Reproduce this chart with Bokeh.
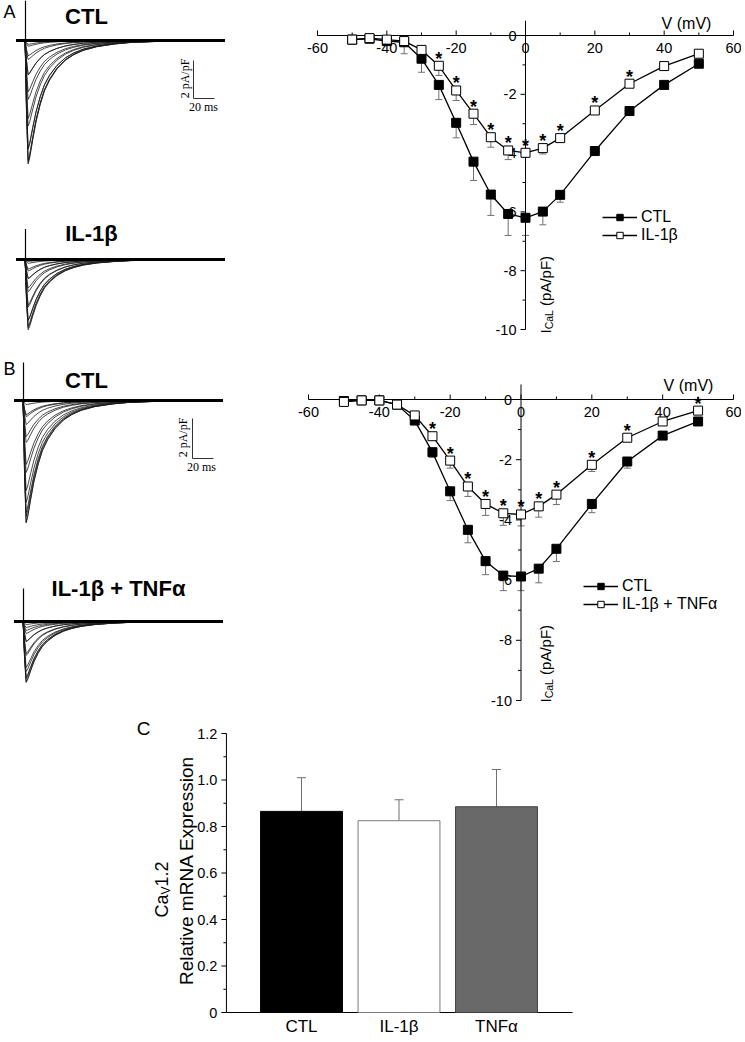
import math
from bokeh.plotting import figure
from bokeh.layouts import column, row
from bokeh.models import (ColumnDataSource, Whisker, TeeHead, Label, Legend, LegendItem, Range1d)
from bokeh.core.properties import value
from bokeh.embed import file_html
from bokeh.resources import INLINE

SANS = "Liberation Sans"
SERIF = "Liberation Serif"
ERR_GREY = "#707070"

# ---------------- I-V relations (test potential mV, I_CaL pA/pF) ----------------
voltages = [-50, -45, -40, -35, -30, -25, -20, -15, -10, -5, 0, 5, 10, 20, 30, 40, 50]

ivA_ctl = [-0.14, -0.11, -0.19, -0.23, -0.79, -1.68, -2.97, -4.29, -5.41, -6.07, -6.20, -5.99, -5.42, -3.93, -2.57, -1.68, -0.96]
ivA_ctl_err = [0.05, 0.05, 0.05, 0.39, 0.46, 0.50, 0.51, 0.64, 0.71, 0.73, 0.60, 0.45, 0.25, 0.08, 0.08, 0.05, 0.05]
ivA_il = [-0.14, -0.09, -0.14, -0.19, -0.49, -1.03, -1.87, -2.66, -3.46, -3.91, -3.99, -3.83, -3.49, -2.55, -1.64, -1.04, -0.62]
ivA_il_err = [0.05, 0.10, 0.05, 0.05, 0.06, 0.33, 0.34, 0.37, 0.34, 0.31, 0.15, 0.20, 0.06, 0.10, 0.06, 0.05, 0.05]
ivA_stars = [-25, -20, -15, -10, -5, 0, 5, 10, 20, 30]

ivB_ctl = [-0.05, -0.03, -0.03, -0.17, -0.70, -1.75, -3.05, -4.33, -5.37, -5.85, -5.88, -5.62, -4.96, -3.47, -2.06, -1.20, -0.73]
ivB_ctl_err = [0.03, 0.03, 0.03, 0.05, 0.08, 0.17, 0.31, 0.43, 0.45, 0.50, 0.47, 0.47, 0.42, 0.29, 0.22, 0.08, 0.05]
ivB_it = [-0.08, -0.03, -0.03, -0.17, -0.53, -1.22, -2.03, -2.89, -3.47, -3.78, -3.82, -3.55, -3.16, -2.17, -1.27, -0.73, -0.37]
ivB_it_err = [0.03, 0.03, 0.03, 0.05, 0.06, 0.14, 0.25, 0.33, 0.38, 0.40, 0.38, 0.36, 0.33, 0.22, 0.08, 0.06, 0.05]
ivB_stars = [-25, -20, -15, -10, -5, 0, 5, 10, 20, 30, 50]

iv_x_ticks = [-60, -40, -20, 0, 20, 40, 60]
iv_x_minor = [-50, -30, -10, 10, 30, 50]
iv_y_ticks = [0, -2, -4, -6, -8, -10]
iv_y_minor = [-1, -3, -5, -7, -9]
iv_y_axis_top = 0.5

# ---------------- example current traces (ms, fraction of peak) ----------------
trace_t_ms = [-9, -0.5, 0, 1, 2.5, 4, 7, 10, 14, 18, 23, 30, 38, 46, 55, 68, 85, 100, 130, 190]
trace_shape = [0, 0, 0.15, 0.6, 1.0, 0.95, 0.8, 0.66, 0.52, 0.41, 0.32, 0.23, 0.16, 0.115, 0.08, 0.05, 0.028, 0.016, 0.006, 0]
trA_ctl_peaks = [-0.2, -0.3, -0.8, -1.8, -3.1, -4.5, -5.7, -6.4, -6.5, -6.3, -5.7, -4.1, -2.7, -1.8, -1.0]
trA_il_peaks = [-0.1, -0.2, -0.5, -1.0, -1.7, -2.5, -3.2, -3.6, -3.7, -3.5, -3.2, -2.4, -1.5, -1.0, -0.6]
trB_ctl_peaks = [-0.05, -0.2, -0.7, -1.8, -3.2, -4.5, -5.6, -6.1, -6.1, -5.8, -5.1, -3.6, -2.1, -1.2, -0.8]
trB_it_peaks = [-0.05, -0.15, -0.45, -1.0, -1.6, -2.3, -2.8, -3.0, -3.05, -2.85, -2.5, -1.7, -1.0, -0.6, -0.3]
artifact_top = {"A_ctl": 2.1, "A_il": 1.6, "B_ctl": 1.9, "B_it": 1.65}
scale_ms = 20
scale_pa = 2

# ---------------- Panel C: Cav1.2 mRNA ----------------
bar_cats = ["CTL", "IL-1\u03b2", "TNF\u03b1"]
bar_vals = [0.865, 0.825, 0.885]
bar_errs = [0.145, 0.09, 0.16]
bar_fill = ["black", "white", "#696969"]
bar_line = ["black", "#7a7a7a", "#404040"]
bar_y_ticks = [0, 0.2, 0.4, 0.6, 0.8, 1.0, 1.2]
bar_y_labels = ["0", "0.2", "0.4", "0.6", "0.8", "1.0", "1.2"]
bar_y_minor = [0.1, 0.3, 0.5, 0.7, 0.9, 1.1]
bar_x_extent = [0.23, 3.78]


class Frame:
    """Placement of a plot frame, in page pixels of the reference picture."""
    def __init__(self, left, top, width, height, xa, xb, ya, yb):
        self.left, self.top, self.width, self.height = left, top, width, height
        (d1, p1), (d2, p2) = xa, xb
        self.sx = (p2 - p1) / (d2 - d1)
        self.x0 = d1 - (p1 - left) / self.sx
        self.x1 = self.x0 + width / self.sx
        (e1, q1), (e2, q2) = ya, yb
        self.sy = (q2 - q1) / (e1 - e2)
        self.y1 = e1 + (q1 - top) / self.sy
        self.y0 = self.y1 - height / self.sy

    def dx(self, px):
        return self.x0 + (px - self.left) / self.sx

    def dy(self, py):
        return self.y1 - (py - self.top) / self.sy

    def ux(self, n):
        return n / self.sx

    def uy(self, n):
        return n / self.sy


def make_fig(fr):
    p = figure(width=fr.width, height=fr.height,
               x_range=Range1d(fr.x0, fr.x1), y_range=Range1d(fr.y0, fr.y1),
               x_axis_type=None, y_axis_type=None, output_backend="svg",
               toolbar_location=None, min_border=0)
    p.outline_line_color = None
    return p


def lab(p, fr, px, py, text, size, style="normal", font=SANS, angle=0.0,
        align="center", baseline="middle"):
    p.add_layout(Label(x=fr.dx(px), y=fr.dy(py), text=text, text_font=font,
                       text_font_size=size, text_font_style=style, angle=angle,
                       text_align=align, text_baseline=baseline, text_color="black"))


def draw_family(p, offset, peaks, art):
    xs = [trace_t_ms for _ in peaks]
    ys = [[offset + pk * f for f in trace_shape] for pk in peaks]
    p.multi_line(xs, ys, line_color="#1a1a1a", line_width=0.8)
    p.line([trace_t_ms[0], trace_t_ms[-1]], [offset, offset], line_color="black", line_width=3.2)
    p.segment(x0=[0], y0=[offset], x1=[0], y1=[offset + art], line_color="black", line_width=1.2)


def draw_scalebar(p, fr, t0, y0, txt_v, txt_h):
    p.line([t0, t0, t0 + scale_ms], [y0, y0 - scale_pa, y0 - scale_pa], line_color="#333333", line_width=1)
    lab(p, fr, txt_v[0], txt_v[1], "2 pA/pF", "12px", font=SERIF, angle=math.pi / 2)
    lab(p, fr, txt_h[0], txt_h[1], "20 ms", "12px", font=SERIF)


def draw_iv(fr, ctl, ctl_err, trt, trt_err, stars, trt_label, v_xy, ical_xy, legend_tl):
    p = make_fig(fr)
    kw = dict(line_color="black", line_width=1)
    nx, nxm, ny, nym = len(iv_x_ticks), len(iv_x_minor), len(iv_y_ticks), len(iv_y_minor)
    p.segment(x0=[iv_x_ticks[0]], y0=[0], x1=[iv_x_ticks[-1]], y1=[0], **kw)
    p.segment(x0=[0], y0=[iv_y_ticks[-1]], x1=[0], y1=[iv_y_axis_top], **kw)
    p.segment(x0=iv_x_ticks, y0=[0] * nx, x1=iv_x_ticks, y1=[fr.uy(5)] * nx, **kw)
    p.segment(x0=iv_x_minor, y0=[0] * nxm, x1=iv_x_minor, y1=[fr.uy(3)] * nxm, **kw)
    p.segment(x0=[0] * ny, y0=iv_y_ticks, x1=[-fr.ux(5)] * ny, y1=iv_y_ticks, **kw)
    p.segment(x0=[0] * nym, y0=iv_y_minor, x1=[-fr.ux(3)] * nym, y1=iv_y_minor, **kw)
    p.text(x=iv_x_ticks, y=[-fr.uy(7)] * nx, text=[str(t) for t in iv_x_ticks],
           text_align="center", text_baseline="top", text_font=value(SANS),
           text_font_size="14.5px", text_color="black")
    p.text(x=[-fr.ux(9)] * ny, y=iv_y_ticks, text=[str(t) for t in iv_y_ticks],
           text_align="right", text_baseline="middle", text_font=value(SANS),
           text_font_size="14.5px", text_color="black")

    def series(vals, errs, fill):
        src = ColumnDataSource(dict(v=voltages, m=vals, lo=[a - b for a, b in zip(vals, errs)]))
        p.add_layout(Whisker(source=src, base="v", upper="m", lower="lo", upper_head=None,
                             lower_head=TeeHead(size=7, line_color=ERR_GREY, line_width=1),
                             line_color=ERR_GREY, line_width=1, level="underlay"))
        ln = p.line("v", "m", source=src, line_color="black", line_width=1.3)
        sc = p.scatter("v", "m", source=src, marker="square", size=9,
                       fill_color=fill, line_color="black", line_width=1)
        return ln, sc

    l1, s1 = series(ctl, ctl_err, "black")
    l2, s2 = series(trt, trt_err, "white")

    star_y = [trt[voltages.index(v)] + fr.uy(7) for v in stars]
    p.text(x=stars, y=star_y, text=["*"] * len(stars), text_align="center",
           text_baseline="alphabetic", text_font=value(SANS), text_font_size="18px",
           text_font_style="bold", text_color="black")

    lab(p, fr, v_xy[0], v_xy[1], "V (mV)", "16px")
    # I_CaL (pA/pF), vertical, reading upward
    bx, by = ical_xy
    lab(p, fr, bx, by, "I", "15px", angle=math.pi / 2, align="left", baseline="alphabetic")
    by2 = by - 0.278 * 15
    lab(p, fr, bx + 3, by2, "CaL", "10.5px", angle=math.pi / 2, align="left", baseline="alphabetic")
    by3 = by2 - 1.834 * 10.5 - 0.278 * 15
    lab(p, fr, bx, by3, "(pA/pF)", "15px", angle=math.pi / 2, align="left", baseline="alphabetic")

    leg = Legend(items=[LegendItem(label="CTL", renderers=[l1, s1]),
                        LegendItem(label=trt_label, renderers=[l2, s2])],
                 location=(legend_tl[0] - fr.left, fr.top + fr.height - (legend_tl[1] + 32)),
                 glyph_width=35, glyph_height=16, label_height=16, spacing=0,
                 padding=0, margin=0, label_standoff=4, border_line_color=None,
                 background_fill_alpha=0, label_text_font=SANS, label_text_font_size="16px",
                 label_text_color="black")
    p.add_layout(leg)
    return p


# ---------------- Panel A ----------------
frTA = Frame(0, 0, 280, 358, (0, 25), (100, 130), (0, 40), (-1, 59))
pTA = make_fig(frTA)
offA_il = -(259 - 40) / 19.0
draw_family(pTA, 0.0, trA_ctl_peaks, artifact_top["A_ctl"])
draw_family(pTA, offA_il, trA_il_peaks, artifact_top["A_il"])
draw_scalebar(pTA, frTA, frTA.dx(193), frTA.dy(60), (184, 78), (203, 106))
lab(pTA, frTA, 9, 11, "A", "18px")
lab(pTA, frTA, 86, 16, "CTL", "22px", style="bold")
lab(pTA, frTA, 91, 233, "IL-1\u03b2", "22px", style="bold")

frIA = Frame(280, 0, 461, 358, (-60, 317), (60, 733), (0, 35), (-10, 329))
pIA = draw_iv(frIA, ivA_ctl, ivA_ctl_err, ivA_il, ivA_il_err, ivA_stars, "IL-1\u03b2",
              (686, 23), (545, 333), (602, 212))

# ---------------- Panel B ----------------
frTB = Frame(0, 358, 280, 354, (0, 23), (100, 128), (0, 400), (-1, 420))
pTB = make_fig(frTB)
offB_it = -(621 - 400) / 20.0
draw_family(pTB, 0.0, trB_ctl_peaks, artifact_top["B_ctl"])
draw_family(pTB, offB_it, trB_it_peaks, artifact_top["B_it"])
draw_scalebar(pTB, frTB, frTB.dx(192), frTB.dy(418), (182, 437), (201, 466))
lab(pTB, frTB, 9, 368, "B", "18px")
lab(pTB, frTB, 86, 380, "CTL", "22px", style="bold")
lab(pTB, frTB, 118, 588, "IL-1\u03b2 + TNF\u03b1", "22px", style="bold")

frIB = Frame(280, 358, 461, 354, (-60, 308), (60, 733), (0, 399), (-10, 700))
pIB = draw_iv(frIB, ivB_ctl, ivB_ctl_err, ivB_it, ivB_it_err, ivB_stars, "IL-1\u03b2 + TNF\u03b1",
              (688, 385), (545, 702), (583, 581))

# ---------------- Panel C ----------------
frC = Frame(0, 712, 741, 326, (1, 301), (2, 398.5), (1.2, 733), (0, 1012))
pC = make_fig(frC)
kw = dict(line_color="black", line_width=1)
xlo, xhi = bar_x_extent
pC.segment(x0=[xlo], y0=[0], x1=[xhi], y1=[0], **kw)
pC.segment(x0=[xlo], y0=[0], x1=[xlo], y1=[bar_y_ticks[-1]], **kw)
pC.segment(x0=[xlo] * len(bar_y_ticks), y0=bar_y_ticks, x1=[xlo - frC.ux(5)] * len(bar_y_ticks),
           y1=bar_y_ticks, **kw)
pC.segment(x0=[xlo] * len(bar_y_minor), y0=bar_y_minor, x1=[xlo - frC.ux(3)] * len(bar_y_minor),
           y1=bar_y_minor, **kw)
pC.text(x=[xlo - frC.ux(9)] * len(bar_y_ticks), y=bar_y_ticks, text=bar_y_labels,
        text_align="right", text_baseline="middle", text_font=value(SANS),
        text_font_size="14.5px", text_color="black")

xpos = [1, 2, 3]
srcC = ColumnDataSource(dict(x=xpos, top=bar_vals, up=[v + e for v, e in zip(bar_vals, bar_errs)],
                             fill=bar_fill, line=bar_line))
pC.vbar(x="x", top="top", bottom=0, width=0.84, source=srcC, fill_color="fill",
        line_color="line", line_width=1)
pC.add_layout(Whisker(source=srcC, base="x", upper="up", lower="top", lower_head=None,
                      upper_head=TeeHead(size=9, line_color=ERR_GREY, line_width=1),
                      line_color=ERR_GREY, line_width=1))
pC.text(x=xpos, y=[-frC.uy(4)] * 3, text=bar_cats, text_align="center", text_baseline="top",
        text_font=value(SANS), text_font_size="17px", text_color="black")

lab(pC, frC, 143, 728, "C", "19px")
lab(pC, frC, 186, 870, "Relative mRNA Expression", "19px", angle=math.pi / 2)
lab(pC, frC, 161, 917, "Ca", "18px", angle=math.pi / 2, align="left", baseline="alphabetic")
lab(pC, frC, 165, 917 - 1.278 * 18, "V", "12px", angle=math.pi / 2, align="left", baseline="alphabetic")
lab(pC, frC, 161, 917 - 1.278 * 18 - 0.667 * 12, "1.2", "18px", angle=math.pi / 2,
    align="left", baseline="alphabetic")

layout = column(row(pTA, pIA), row(pTB, pIB), pC)
open("out.html", "w").write(file_html(layout, INLINE))
